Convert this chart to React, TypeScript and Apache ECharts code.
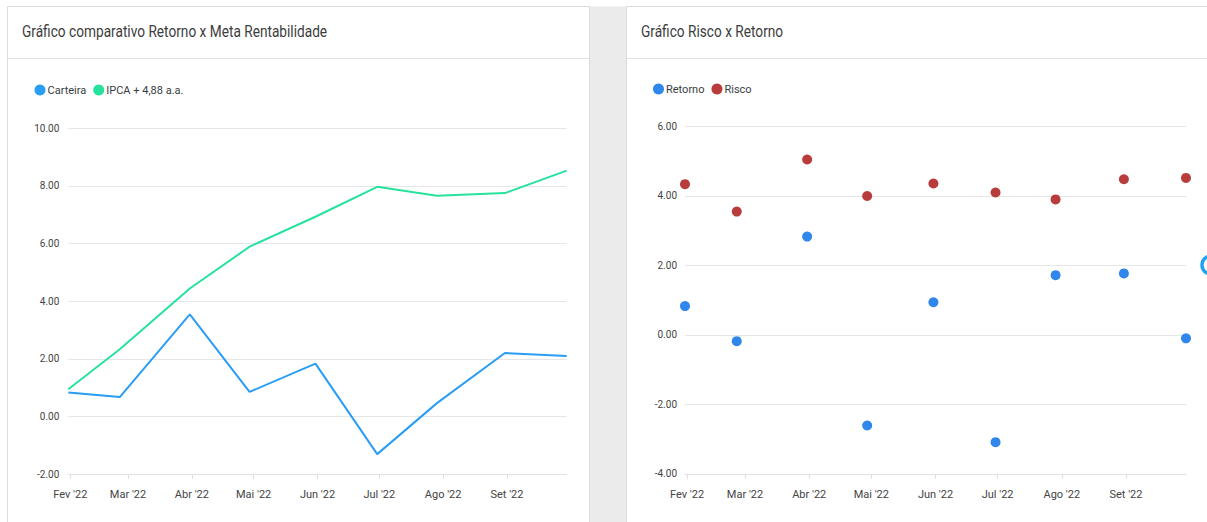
import React, { useEffect, useRef } from 'react';
import * as echarts from 'echarts';

const FONT = "Roboto, 'Liberation Sans', sans-serif";

// Data (month-end dates)
const dates = ['2022-01-31', '2022-02-25', '2022-03-31', '2022-04-29', '2022-05-31', '2022-06-30', '2022-07-29', '2022-08-31', '2022-09-30'];
const carteira = [0.83, 0.67, 3.54, 0.85, 1.83, -1.31, 0.46, 2.2, 2.1];
const ipca = [0.94, 2.33, 4.44, 5.89, 6.93, 7.97, 7.66, 7.75, 8.53];
const retorno = [0.83, -0.18, 2.83, -2.61, 0.94, -3.09, 1.72, 1.77, -0.1];
const risco = [4.34, 3.55, 5.05, 4.0, 4.36, 4.1, 3.9, 4.48, 4.52];

const tickDates = ['2022-02-01', '2022-03-01', '2022-04-01', '2022-05-01', '2022-06-01', '2022-07-01', '2022-08-01', '2022-09-01'];
const tickLabels = ["Fev '22", "Mar '22", "Abr '22", "Mai '22", "Jun '22", "Jul '22", "Ago '22", "Set '22"];

const leftTitle = 'Gráfico comparativo Retorno x Meta Rentabilidade';
const rightTitle = 'Gráfico Risco x Retorno';
const leftNames = ['Carteira', 'IPCA + 4,88 a.a.'];
const rightNames = ['Retorno', 'Risco'];

const DAY = 86400000;
const ts = (s: string) => {
  const [y, m, d] = s.split('-').map(Number);
  return Date.UTC(y, m - 1, d) / DAY; // day number
};
const tickTs = tickDates.map(ts);
const pairs = (vals: number[]) => vals.map((v, i) => [ts(dates[i]), v]);

const LABEL_COLOR = '#444444';
const GRID_COLOR = '#e6e6e6';

const xAxisCfg = (gridIndex: number) => ({
  type: 'value',
  gridIndex,
  min: ts(dates[0]),
  max: ts(dates[dates.length - 1]),
  axisLine: { show: true, onZero: false, lineStyle: { color: '#e0e0e0' } },
  axisTick: { show: true, customValues: tickTs, length: 5, lineStyle: { color: '#e0e0e0' } },
  axisLabel: {
    customValues: tickTs,
    formatter: (v: number) => {
      const i = tickTs.indexOf(v);
      return i >= 0 ? tickLabels[i] : '';
    },
    color: LABEL_COLOR,
    fontSize: 11,
    fontFamily: FONT,
    margin: 15,
  },
  splitLine: { show: false },
});

const yAxisCfg = (gridIndex: number, min: number, max: number, margin: number) => ({
  type: 'value',
  gridIndex,
  min,
  max,
  interval: 2,
  axisLine: { show: false },
  axisTick: { show: false },
  axisLabel: {
    formatter: (v: number) => v.toFixed(2),
    color: LABEL_COLOR,
    fontSize: 10,
    fontFamily: FONT,
    margin,
  },
  splitLine: { show: true, lineStyle: { color: GRID_COLOR, width: 1 } },
});

export default function App() {
  const ref = useRef<HTMLDivElement>(null);

  useEffect(() => {
    if (!ref.current) return;
    const chart = echarts.init(ref.current, undefined, { renderer: 'svg' });
    const legendText = { color: '#373d3f', fontSize: 11, fontFamily: FONT, padding: [0, 0, 0, -3] };
    const titleStyle = { fill: '#3d3d3d', fontSize: 16, fontFamily: FONT, verticalAlign: 'middle' };
    chart.setOption({
      animation: false,
      backgroundColor: '#ffffff',
      graphic: [
        { type: 'rect', shape: { x: 589, y: 6.5, width: 38, height: 520 }, style: { fill: '#ebebeb' } },
        { type: 'rect', shape: { x: 7.5, y: 6.5, width: 582, height: 600 }, style: { fill: 'none', stroke: '#dcdcdc', lineWidth: 1 } },
        { type: 'rect', shape: { x: 626.5, y: 6.5, width: 700, height: 600 }, style: { fill: 'none', stroke: '#dcdcdc', lineWidth: 1 } },
        { type: 'line', shape: { x1: 8, y1: 58.5, x2: 589, y2: 58.5 }, style: { stroke: '#e2e2e2', lineWidth: 1 } },
        { type: 'line', shape: { x1: 627, y1: 58.5, x2: 1207, y2: 58.5 }, style: { stroke: '#e2e2e2', lineWidth: 1 } },
        { type: 'text', x: 22, y: 32, scaleX: 0.855, style: { text: leftTitle, ...titleStyle } },
        { type: 'text', x: 641, y: 32, scaleX: 0.855, style: { text: rightTitle, ...titleStyle } },
        { type: 'circle', shape: { cx: 1211, cy: 265, r: 9 }, style: { fill: '#ffffff', stroke: '#22a0f2', lineWidth: 3.5 } },
      ],
      legend: [
        {
          data: leftNames,
          left: 34.5,
          top: 84.5,
          padding: 0,
          icon: 'circle',
          itemWidth: 11,
          itemHeight: 11,
          itemGap: 7,
          textStyle: legendText,
        },
        {
          data: rightNames,
          left: 653,
          top: 83.5,
          padding: 0,
          icon: 'circle',
          itemWidth: 11,
          itemHeight: 11,
          itemGap: 7,
          textStyle: legendText,
        },
      ],
      grid: [
        { left: 68.3, right: 1207 - 566.7, top: 128.3, bottom: 522 - 474, containLabel: false },
        { left: 685, right: 1207 - 1186, top: 126.5, bottom: 522 - 473.8, containLabel: false },
      ],
      xAxis: [xAxisCfg(0), xAxisCfg(1)],
      yAxis: [yAxisCfg(0, -2, 10, 9), yAxisCfg(1, -4, 6, 8)],
      series: [
        {
          name: leftNames[0],
          type: 'line',
          xAxisIndex: 0,
          yAxisIndex: 0,
          data: pairs(carteira),
          showSymbol: false,
          symbol: 'circle',
          itemStyle: { color: '#2a9df4' },
          lineStyle: { color: '#2a9df4', width: 2 },
        },
        {
          name: leftNames[1],
          type: 'line',
          xAxisIndex: 0,
          yAxisIndex: 0,
          data: pairs(ipca),
          showSymbol: false,
          symbol: 'circle',
          itemStyle: { color: '#26e29c' },
          lineStyle: { color: '#26e29c', width: 2 },
        },
        {
          name: rightNames[0],
          type: 'scatter',
          xAxisIndex: 1,
          yAxisIndex: 1,
          data: pairs(retorno),
          symbolSize: 10,
          itemStyle: { color: '#2f86eb', opacity: 1 },
        },
        {
          name: rightNames[1],
          type: 'scatter',
          xAxisIndex: 1,
          yAxisIndex: 1,
          data: pairs(risco),
          symbolSize: 10,
          itemStyle: { color: '#b83c3c', opacity: 1 },
        },
      ],
    });
    return () => chart.dispose();
  }, []);

  return (
    <div
      ref={ref}
      style={{ position: 'fixed', left: 0, top: 0, width: 1207, height: 522 }}
    />
  );
}
